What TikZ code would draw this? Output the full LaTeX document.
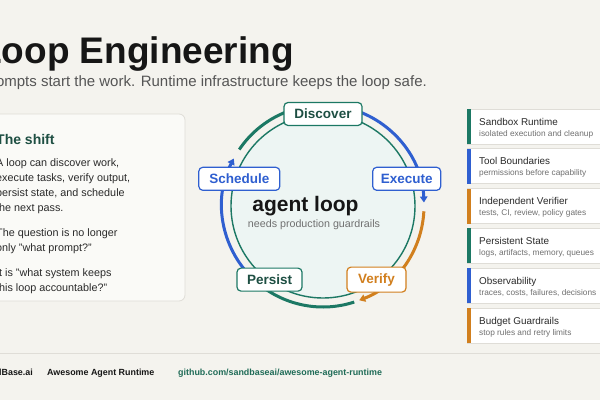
\documentclass[tikz,border=0pt]{standalone}
\usepackage{fontspec}
\setmainfont{Liberation Sans}
\usetikzlibrary{arrows.meta,calc}
\definecolor{bg}{HTML}{F4F3EE}
\definecolor{ringgreen}{HTML}{1C7864}
\definecolor{darkgreen}{HTML}{1E4F43}
\definecolor{loopblue}{HTML}{2F5FD0}
\definecolor{looporange}{HTML}{D17F1E}
\definecolor{innerfill}{HTML}{EDF5F3}
\definecolor{panelfill}{HTML}{FAFAF7}
\definecolor{panelline}{HTML}{DFDDD7}
\definecolor{titleink}{HTML}{161616}
\definecolor{subink}{HTML}{555555}
\definecolor{bodyink}{HTML}{2A2A2A}
\definecolor{lightink}{HTML}{707070}
\definecolor{linkgreen}{HTML}{1F6B57}
\begin{document}
\begin{tikzpicture}[x=1pt,y=1pt,
  stage/.style={draw, line width=1.2pt, fill=white, rounded corners=4pt,
    minimum height=23pt, inner sep=0pt,
    font=\fontsize{13.5}{14}\selectfont\bfseries},
  ring/.style={line width=3pt},
  tipend/.style={-{Triangle[length=6pt,width=7.5pt]}},
  bodytext/.style={anchor=base west, inner sep=0pt, text=bodyink,
    font=\fontsize{10.8}{13}\selectfont},
  cardbox/.style={draw=panelline, line width=0.8pt, fill=white},
  cardtitle/.style={anchor=base west, inner sep=0pt, text=bodyink,
    font=\fontsize{9.9}{11}\selectfont},
  cardsub/.style={anchor=base west, inner sep=0pt, text=lightink,
    font=\fontsize{8.3}{9}\selectfont},
  foot/.style={inner sep=0pt, font=\fontsize{8.9}{10}\selectfont\bfseries}]
\useasboundingbox (0,0) rectangle (600,400);
\clip (0,0) rectangle (600,400);
\fill[bg] (0,0) rectangle (600,400);

% title
\node[anchor=base west, inner sep=0pt, text=titleink,
  font=\fontsize{37}{40}\selectfont\bfseries] (title) at (-21,337) {Loop Engineering};
\node[anchor=base east, inner sep=0pt, text=subink,
  font=\fontsize{15}{17}\selectfont] (subtitle) at (427,313)
  {Prompts start the work. Runtime infrastructure keeps the loop safe.};

% left panel
\draw[fill=panelfill, draw=panelline, line width=0.8pt, rounded corners=6pt]
  (-10,99) rectangle (185,286);
\node[anchor=base west, inner sep=0pt, text=darkgreen,
  font=\fontsize{14}{16}\selectfont\bfseries] (shift) at (-4,256) {The shift};
\node[bodytext] (l1) at (-4,234) {A loop can discover work,};
\node[bodytext] (l2) at (-4,219) {execute tasks, verify output,};
\node[bodytext] (l3) at (-4,204) {persist state, and schedule};
\node[bodytext] (l4) at (-4,189) {the next pass.};
\node[bodytext] (l5) at (-4,164) {The question is no longer};
\node[bodytext] (l6) at (-4,149) {only "what prompt?"};
\node[bodytext] (l7) at (-4,124) {It is "what system keeps};
\node[bodytext] (l8) at (-4,109) {this loop accountable?"};

% loop
\coordinate (c) at (323,194);
\draw[ringgreen, line width=1.4pt, fill=innerfill] (c) circle[radius=92];
\draw[ring, ringgreen] ($(c)+(146:101)$) arc[start angle=146, end angle=76, radius=101];
\draw[ring, loopblue, tipend] ($(c)+(74:101)$) arc[start angle=74, end angle=2, radius=101];
\draw[ring, looporange, tipend] ($(c)+(-3:101)$) arc[start angle=-3, end angle=-69, radius=101];
\draw[ring, ringgreen] ($(c)+(-72:101)$) arc[start angle=-72, end angle=-128, radius=101];
\draw[ring, loopblue, tipend] ($(c)+(-134:101)$) arc[start angle=-134, end angle=-208, radius=101];

\node[inner sep=0pt, anchor=base, text=titleink,
  font=\fontsize{21}{23}\selectfont\bfseries] (agent) at (305.5,189) {agent loop};
\node[inner sep=0pt, anchor=base, text=lightink,
  font=\fontsize{10.7}{12}\selectfont] (needs) at (314,173) {needs production guardrails};

\node[stage, draw=ringgreen, text=darkgreen, minimum width=78pt] (discover) at ($(c)+(90:92)$) {Discover};
\node[stage, draw=loopblue, text=loopblue, minimum width=68pt] (execute) at ($(c)+(18:88)$) {Execute};
\node[stage, draw=looporange, text=looporange, minimum width=59pt, minimum height=25pt] (verify) at ($(c)+(-54:91)$) {Verify};
\node[stage, draw=ringgreen, text=darkgreen, minimum width=65pt] (persist) at ($(c)+(-126:91)$) {Persist};
\node[stage, draw=loopblue, text=loopblue, minimum width=81pt] (schedule) at ($(c)+(162:88)$) {Schedule};

% right cards
\foreach \i/\t/\s/\col in {0/Sandbox Runtime/isolated execution and cleanup/ringgreen,
  1/Tool Boundaries/permissions before capability/loopblue,
  2/Independent Verifier/{tests, CI, review, policy gates}/looporange,
  3/Persistent State/{logs, artifacts, memory, queues}/ringgreen,
  4/Observability/{traces, costs, failures, decisions}/loopblue,
  5/Budget Guardrails/stop rules and retry limits/looporange}{
  \pgfmathsetmacro{\top}{400-109-39.8*\i}
  \draw[cardbox] (467,\top) rectangle (612,\top-35);
  \fill[\col] (467,\top) rectangle (470.5,\top-35);
  \node[cardtitle] (ct\i) at (479,\top-16) {\t};
  \node[cardsub] (cs\i) at (479,\top-27) {\s};
}

% footer
\draw[panelline, line width=1pt] (0,47) -- (600,47);
\node[foot, anchor=base east, text=titleink] (brand) at (33,25) {SandBase.ai};
\node[foot, anchor=base west, text=titleink] (awesome) at (47,25) {Awesome Agent Runtime};
\node[foot, anchor=base west, text=linkgreen] (link) at (178,25) {github.com/sandbaseai/awesome-agent-runtime};
\end{tikzpicture}
\end{document}
